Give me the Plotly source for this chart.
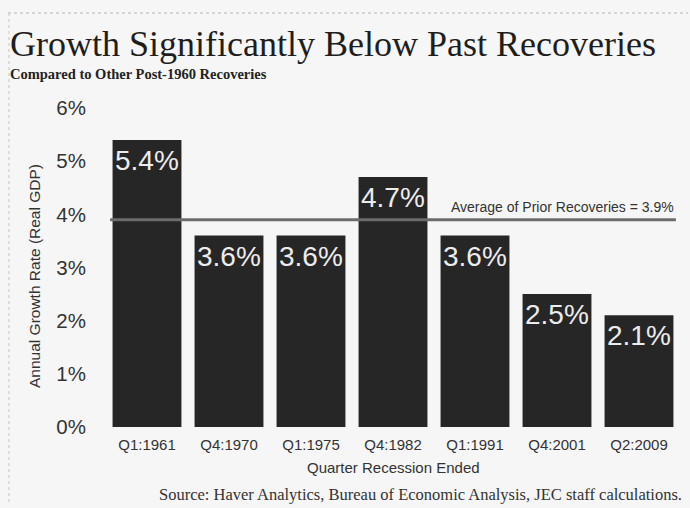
import plotly.graph_objects as go

# Quarter in which each post-1960 recession ended, and annual real GDP growth in the recovery
quarters = ["Q1:1961", "Q4:1970", "Q1:1975", "Q4:1982", "Q1:1991", "Q4:2001", "Q2:2009"]
growth = [5.4, 3.6, 3.6, 4.7, 3.6, 2.5, 2.1]
prior_average = 3.9
y_ticks = [0, 1, 2, 3, 4, 5, 6]
y_tick_labels = [f"{v}%" for v in y_ticks]

SANS = "Liberation Sans, Arial, sans-serif"
SERIF = "Liberation Serif, Times New Roman, serif"

W, H = 690, 508
L, R, T, B = 106, 10, 108, 81
pw, ph = W - L - R, H - T - B


def px_x(x):
    return (x - L) / pw


def px_y(y):
    # y measured in pixels from the top of the page
    return (H - y - B) / ph


fig = go.Figure()
fig.add_trace(go.Bar(
    x=quarters,
    y=growth,
    width=0.84,
    marker=dict(color="#262626", line=dict(width=0)),
    hoverinfo="skip",
))

# Value labels just inside the top of each bar
for q, v in zip(quarters, growth):
    fig.add_annotation(x=q, y=v, xref="x", yref="y", text=f"{v}%",
                       showarrow=False, xanchor="center", yanchor="top", yshift=-3,
                       font=dict(family=SANS, size=28, color="#ececec"))

# Average of prior recoveries reference line
fig.add_shape(type="line", xref="x", yref="y",
              x0=-0.45, x1=6.45, y0=prior_average, y1=prior_average,
              line=dict(color="#6c6c6c", width=3), layer="above")
fig.add_annotation(x=6.45, y=prior_average, xref="x", yref="y",
                   xanchor="right", yanchor="bottom", yshift=3,
                   text=f"Average of Prior Recoveries = {prior_average}%",
                   showarrow=False, font=dict(family=SANS, size=14, color="#333333"))

# Titles, axis titles and source
fig.add_annotation(x=px_x(8), y=px_y(44), xref="paper", yref="paper",
                   text="Growth Significantly Below Past Recoveries",
                   showarrow=False, xanchor="left", yanchor="middle",
                   font=dict(family=SERIF, size=36, color="#1e1e1e"))
fig.add_annotation(x=px_x(8), y=px_y(74), xref="paper", yref="paper",
                   text="<b>Compared to Other Post-1960 Recoveries</b>",
                   showarrow=False, xanchor="left", yanchor="middle",
                   font=dict(family=SERIF, size=14.5, color="#222222"))
fig.add_annotation(x=px_x(684), y=px_y(494), xref="paper", yref="paper",
                   text="Source: Haver Analytics, Bureau of Economic Analysis, JEC staff calculations.",
                   showarrow=False, xanchor="right", yanchor="middle",
                   font=dict(family=SERIF, size=16.5, color="#333333"))
fig.add_annotation(x=px_x(393), y=px_y(467), xref="paper", yref="paper",
                   text="Quarter Recession Ended",
                   showarrow=False, xanchor="center", yanchor="middle",
                   font=dict(family=SANS, size=15, color="#333333"))
fig.add_annotation(x=px_x(34), y=px_y(276), xref="paper", yref="paper",
                   text="Annual Growth Rate (Real GDP)",
                   textangle=-90, showarrow=False, xanchor="center", yanchor="middle",
                   font=dict(family=SANS, size=15.5, color="#333333"))

# Faint dotted page border along the top and left edge
fig.add_shape(type="line", xref="paper", yref="paper",
              x0=px_x(8), x1=px_x(688), y0=px_y(13), y1=px_y(13),
              line=dict(color="#b5b5b5", width=1, dash="dot"))
fig.add_shape(type="line", xref="paper", yref="paper",
              x0=px_x(9), x1=px_x(9), y0=px_y(13), y1=px_y(505),
              line=dict(color="#c5c5c5", width=1, dash="dot"))

fig.update_layout(
    width=W, height=H,
    margin=dict(l=L, r=R, t=T, b=B, pad=0),
    paper_bgcolor="#f6f6f6",
    plot_bgcolor="#f6f6f6",
    showlegend=False,
    xaxis=dict(
        range=[-0.5, 6.5],
        showgrid=False, zeroline=False, showline=False, ticks="",
        tickfont=dict(family=SANS, size=15, color="#333333"),
        ticklabelstandoff=7,
    ),
    yaxis=dict(
        range=[0, 6],
        tickvals=y_ticks, ticktext=y_tick_labels,
        showgrid=False, zeroline=False, showline=False, ticks="",
        tickfont=dict(family=SANS, size=20.5, color="#333333"),
        ticklabelstandoff=19,
    ),
)

fig.write_html("out.html")
